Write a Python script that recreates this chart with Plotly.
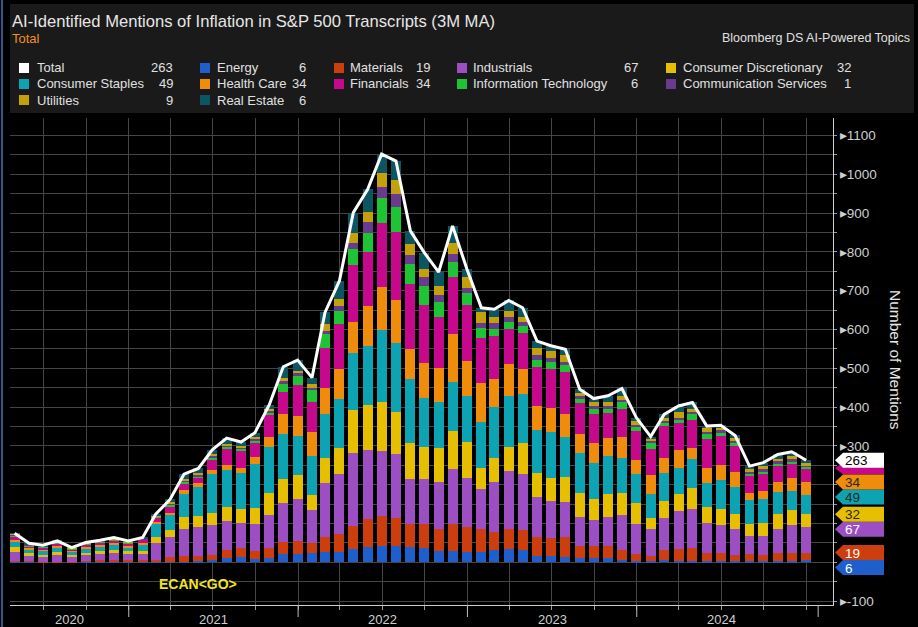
import plotly.graph_objects as go
import pandas as pd

# ---------------- data (monthly, 3M MA, Apr-2020 .. Dec-2024) ----------------
months = (pd.date_range(start="2020-05-01", periods=57, freq="MS") - pd.Timedelta(days=1))

energy = [1, 1, 0, 0, 0, 1, 1, 1, 1, 1,
          1, 1, 2, 3, 6, 10, 13, 9, 12, 21,
          21, 24, 26, 27, 34, 39, 43, 43, 39, 36,
          30, 30, 26, 27, 33, 34, 33, 15, 15, 13,
          10, 10, 10, 6, 4, 4, 6, 3, 3, 3,
          3, 3, 3, 3, 3, 3, 6]
materials = [3, 2, 2, 2, 2, 3, 4, 5, 4, 4,
             5, 12, 13, 14, 14, 22, 23, 20, 26, 31,
             34, 27, 40, 45, 60, 72, 77, 70, 61, 62,
             55, 70, 64, 58, 46, 51, 50, 51, 47, 51,
             32, 32, 32, 26, 17, 11, 26, 31, 35, 20,
             20, 15, 18, 15, 20, 20, 19]
industrials = [22, 15, 13, 18, 12, 15, 17, 18, 16, 16,
               45, 51, 70, 73, 76, 75, 66, 71, 83, 102,
               107, 83, 139, 155, 189, 179, 167, 165, 114, 116,
               122, 140, 128, 105, 128, 151, 144, 103, 96, 92,
               76, 67, 76, 89, 79, 70, 83, 97, 99, 78,
               73, 67, 47, 50, 64, 73, 67]
cons_disc = [13, 5, 4, 6, 4, 6, 6, 7, 7, 8,
             13, 19, 32, 29, 32, 36, 35, 41, 57, 60,
             62, 40, 65, 67, 110, 115, 125, 110, 93, 84,
             87, 99, 91, 54, 63, 62, 80, 60, 59, 64,
             60, 55, 57, 57, 52, 30, 43, 44, 54, 42,
             41, 39, 30, 33, 37, 38, 32]
cons_staples = [14, 10, 11, 12, 9, 11, 13, 14, 10, 17,
                34, 38, 60, 74, 99, 95, 94, 112, 118, 116,
                102, 100, 112, 126, 146, 153, 187, 177, 166, 126,
                119, 126, 120, 118, 129, 131, 126, 112, 119, 103,
                103, 93, 99, 90, 75, 60, 71, 69, 74, 61,
                74, 70, 63, 61, 56, 50, 49]
health_care = [5, 4, 3, 4, 3, 4, 4, 4, 4, 4,
               6, 7, 9, 11, 11, 12, 13, 19, 28, 52,
               50, 62, 68, 77, 80, 103, 111, 111, 76, 89,
               87, 123, 90, 101, 74, 81, 65, 62, 61, 60,
               49, 51, 46, 55, 36, 50, 39, 46, 29, 38,
               39, 39, 17, 22, 27, 33, 34]
financials = [8, 5, 5, 7, 4, 6, 7, 8, 7, 8,
              11, 17, 18, 14, 28, 43, 43, 36, 55, 57,
              80, 76, 103, 118, 147, 139, 165, 175, 168, 149,
              133, 148, 143, 114, 110, 92, 94, 101, 102, 108,
              80, 73, 64, 73, 75, 68, 83, 70, 73, 75,
              76, 67, 45, 43, 40, 36, 34]
info_tech = [3, 2, 2, 2, 1, 2, 2, 2, 2, 2,
             3, 4, 4, 4, 4, 5, 5, 6, 6, 20,
             26, 32, 35, 33, 42, 48, 63, 65, 51, 49,
             38, 38, 33, 28, 19, 18, 17, 17, 17, 17,
             12, 15, 12, 16, 12, 16, 9, 9, 14, 13,
             8, 8, 6, 8, 8, 8, 6]
comm_services = [2, 1, 1, 1, 1, 1, 1, 1, 1, 1,
                 1, 2, 2, 3, 3, 3, 3, 4, 4, 8,
                 5, 6, 8, 13, 14, 29, 30, 32, 23, 23,
                 18, 20, 13, 13, 16, 13, 10, 12, 11, 8,
                 7, 7, 7, 6, 5, 4, 4, 4, 6, 7,
                 6, 5, 4, 5, 5, 5, 1]
utilities = [2, 2, 1, 1, 1, 1, 1, 2, 1, 1,
             2, 4, 4, 4, 6, 5, 5, 6, 6, 9,
             6, 9, 17, 17, 26, 26, 36, 37, 29, 21,
             23, 30, 28, 26, 15, 15, 14, 20, 18, 18,
             8, 10, 10, 11, 9, 6, 9, 15, 9, 8,
             7, 8, 7, 7, 6, 8, 9]
real_estate = [2, 2, 2, 2, 1, 1, 1, 2, 2, 2,
               3, 7, 13, 13, 11, 14, 10, 10, 11, 28,
               28, 17, 31, 47, 53, 58, 48, 49, 34, 43,
               36, 43, 19, 12, 19, 27, 23, 17, 13, 15,
               9, 9, 16, 19, 9, 5, 8, 15, 16, 6,
               6, 6, 8, 10, 12, 11, 6]

sector_names = ["Energy", "Materials", "Industrials", "Consumer Discretionary",
                "Consumer Staples", "Health Care", "Financials",
                "Information Technology", "Communication Services",
                "Utilities", "Real Estate"]
sector_values = [energy, materials, industrials, cons_disc, cons_staples,
                 health_care, financials, info_tech, comm_services,
                 utilities, real_estate]
sector_colors = ["#1e5fcc", "#cc3e0e", "#9b4fc2", "#e6c000", "#0ea3b3",
                 "#ef8c0c", "#c6088c", "#1ec434", "#6a3b8c", "#c4a00a", "#0b5662"]

total = [sum(v[i] for v in sector_values) for i in range(len(months))]

year_ticks = [2021, 2022, 2023, 2024]
y_tick_vals = list(range(-100, 1101, 100))
y_hidden_ticks = [0, 100, 200]   # covered by the last-value tags in the reference

# ---------------- geometry helpers ----------------
W, H = 918, 627
ML, MR, MT, MB = 10, 85, 118, 22
PW, PH = W - ML - MR, H - MT - MB
Y_MIN, Y_MAX = -110, 1145
X_START, X_END = pd.Timestamp("2020-04-20"), pd.Timestamp("2025-02-27")


def xp(px):
    return (px - ML) / PW


def yp(py):
    return (H - MB - py) / PH


def v2py(v):
    return MT + (Y_MAX - v) / (Y_MAX - Y_MIN) * PH


FONT = "Liberation Sans, Arial, sans-serif"
GRID = "#454545"

fig = go.Figure()
bar_w = 21.5 * 86400000
for name, vals, col in zip(sector_names, sector_values, sector_colors):
    fig.add_trace(go.Bar(x=months, y=vals, name=name, marker_color=col,
                         marker_line_width=0, width=bar_w))
fig.add_trace(go.Scatter(x=months, y=total, mode="lines", name="Total",
                         line=dict(color="white", width=3)))

shapes, annos = [], []

# header panel and left border
shapes.append(dict(type="rect", xref="paper", yref="paper", x0=xp(10), x1=xp(914),
                   y0=yp(113), y1=yp(4), fillcolor="#1a1a1a", line_width=0, layer="below"))
shapes.append(dict(type="line", xref="paper", yref="paper", x0=xp(2), x1=xp(2),
                   y0=yp(0), y1=yp(627), line=dict(color="#35568c", width=2)))

# title block
annos.append(dict(text="AI-Identified Mentions of Inflation in S&amp;P 500 Transcripts (3M MA)",
                  xref="paper", yref="paper", x=xp(10), y=yp(21), xanchor="left", yanchor="middle",
                  showarrow=False, font=dict(family=FONT, size=16.6, color="#e6e6e6")))
annos.append(dict(text="Total", xref="paper", yref="paper", x=xp(10), y=yp(38),
                  xanchor="left", yanchor="middle", showarrow=False,
                  font=dict(family=FONT, size=13, color="#f0901e")))
annos.append(dict(text="Bloomberg DS AI-Powered Topics", xref="paper", yref="paper",
                  x=xp(912), y=yp(38), xanchor="right", yanchor="middle", showarrow=False,
                  font=dict(family=FONT, size=12.5, color="#e0e0e0")))

# legend grid
legend_items = [("Total", "#ffffff", total[-1])] + [
    (n, c, v[-1]) for n, c, v in zip(sector_names, sector_colors, sector_values)]
legend_order = ["Total", "Energy", "Materials", "Industrials", "Consumer Discretionary",
                "Consumer Staples", "Health Care", "Financials", "Information Technology",
                "Communication Services", "Utilities", "Real Estate"]
lookup = {n: (c, v) for n, c, v in legend_items}
col_sq = [19, 200, 334, 457, 666]
col_nm = [35, 215, 348, 471, 681]
col_val = [175, 308, 432, 640, 853]
row_y = [68, 84, 100]
for k, name in enumerate(legend_order):
    r, c = divmod(k, 5)
    colr, val = lookup[name]
    cy = row_y[r]
    shapes.append(dict(type="rect", xref="paper", yref="paper", x0=xp(col_sq[c]),
                       x1=xp(col_sq[c] + 10), y0=yp(cy + 5), y1=yp(cy - 5),
                       fillcolor=colr, line_width=0))
    annos.append(dict(text=name, xref="paper", yref="paper", x=xp(col_nm[c]), y=yp(cy),
                      xanchor="left", yanchor="middle", showarrow=False,
                      font=dict(family=FONT, size=13, color="#e0e0e0")))
    annos.append(dict(text=str(val), xref="paper", yref="paper", x=xp(col_val[c]), y=yp(cy),
                      xanchor="right", yanchor="middle", showarrow=False,
                      font=dict(family=FONT, size=13, color="#e0e0e0")))

# year separators and labels
end_marker = months[-1] + pd.Timedelta(days=26)
for yr in year_ticks:
    shapes.append(dict(type="line", xref="x", yref="paper", x0=f"{yr}-01-01", x1=f"{yr}-01-01",
                       y0=0, y1=yp(617), line=dict(color="#bdbdbd", width=1)))
shapes.append(dict(type="line", xref="x", yref="paper", x0=end_marker, x1=end_marker,
                   y0=0, y1=yp(617), line=dict(color="#bdbdbd", width=1)))
for yr in range(2020, 2025):
    a = max(pd.Timestamp(f"{yr}-01-01"), X_START)
    b = min(pd.Timestamp(f"{yr + 1}-01-01"), end_marker)
    mid = a + (b - a) / 2
    annos.append(dict(text=str(yr), xref="x", yref="paper", x=mid, y=yp(619),
                      xanchor="center", yanchor="middle", showarrow=False,
                      font=dict(family=FONT, size=13, color="#cfcfcf")))

# ECAN<GO>
annos.append(dict(text="<b>ECAN&lt;GO&gt;</b>", xref="paper", yref="paper", x=xp(157), y=yp(584),
                  xanchor="left", yanchor="middle", showarrow=False,
                  font=dict(family=FONT, size=14, color="#f2e51c")))

# y-axis title
annos.append(dict(text="Number of Mentions", xref="paper", yref="paper", x=xp(896), y=yp(360),
                  xanchor="center", yanchor="middle", showarrow=False, textangle=90,
                  font=dict(family=FONT, size=15.5, color="#e6e6e6")))

# last-value tags: total first, then sectors top-down, spaced so they do not overlap
cum = []
run = 0
for v in sector_values:
    run += v[-1]
    cum.append(run)
text_dark = {"Health Care", "Consumer Staples", "Consumer Discretionary"}
TH = 15
tags = [(str(total[-1]), v2py(total[-1]), "#ffffff", "#000000")]
for idx in [5, 4, 3, 2, 1, 0]:
    nm = sector_names[idx]
    tags.append((str(sector_values[idx][-1]), v2py(cum[idx]), sector_colors[idx],
                 "#262626" if nm in text_dark else "#ffffff"))
placed = []
prev = None
for txt, cy, bg, fg in tags:
    if prev is not None and cy < prev + TH:
        cy = prev + TH
    placed.append((txt, cy, bg, fg))
    prev = cy

# financials tag peeks out from under the total tag (text hidden in the reference)
fin_cy = placed[0][1] + 8
shapes.append(dict(type="path", xref="paper", yref="paper",
                   path=(f"M {xp(835)},{yp(fin_cy)} L {xp(843)},{yp(fin_cy - 6)} "
                         f"L {xp(884)},{yp(fin_cy - 6)} L {xp(884)},{yp(fin_cy + 6)} "
                         f"L {xp(843)},{yp(fin_cy + 6)} Z"),
                   fillcolor=sector_colors[6], line_width=0))

for txt, cy, bg, fg in reversed(placed):
    path = (f"M {xp(835)},{yp(cy)} L {xp(843)},{yp(cy - TH / 2)} "
            f"L {xp(884)},{yp(cy - TH / 2)} L {xp(884)},{yp(cy + TH / 2)} "
            f"L {xp(843)},{yp(cy + TH / 2)} Z")
    shapes.append(dict(type="path", xref="paper", yref="paper", path=path,
                       fillcolor=bg, line_width=0))
for txt, cy, bg, fg in placed:
    annos.append(dict(text=txt, xref="paper", yref="paper", x=xp(843), y=yp(cy + 0.5),
                      xanchor="left", yanchor="middle", showarrow=False,
                      font=dict(family=FONT, size=13.5, color=fg)))

fig.update_layout(
    width=W, height=H, margin=dict(l=ML, r=MR, t=MT, b=MB),
    paper_bgcolor="#000000", plot_bgcolor="#000000",
    barmode="stack", bargap=0, showlegend=False,
    shapes=shapes, annotations=annos,
    xaxis=dict(type="date", range=[X_START, X_END], tick0="2020-01-01", dtick="M3",
               showticklabels=False, showgrid=True, gridcolor=GRID, gridwidth=1,
               ticks="outside", ticklen=4, tickcolor="#9a9a9a",
               showline=True, linecolor="#cfcfcf", linewidth=1, zeroline=False),
    yaxis=dict(side="right", range=[Y_MIN, Y_MAX], tickmode="array", tickvals=y_tick_vals,
               ticktext=["" if t in y_hidden_ticks else f"▸{t}" for t in y_tick_vals],
               showgrid=True, gridcolor=GRID, gridwidth=1, zeroline=False,
               showline=True, linecolor="#cfcfcf", linewidth=1,
               ticks="outside", ticklen=3, tickcolor="#9a9a9a",
               tickfont=dict(family=FONT, size=13.5, color="#cfcfcf"),
               minor=dict(dtick=50, tick0=0, showgrid=True, gridcolor=GRID,
                          ticks="outside", ticklen=3, tickcolor="#9a9a9a")),
    font=dict(family=FONT, color="#dddddd"),
)

fig.write_html("out.html")
